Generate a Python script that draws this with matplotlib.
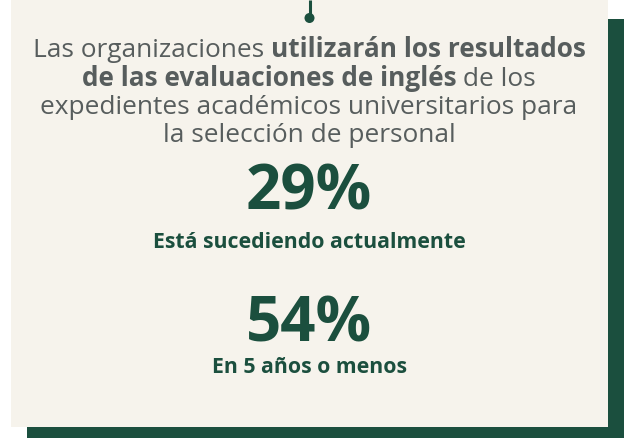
import matplotlib
matplotlib.use("Agg")
import matplotlib.pyplot as plt
from matplotlib.patches import Rectangle, Circle

# Data
values = [29, 54]
labels = ["Está sucediendo actualmente", "En 5 años o menos"]
title_lines = [
    [("Las organizaciones ", "normal"), ("utilizarán los resultados", "bold")],
    [("de las evaluaciones de inglés", "bold"), (" de los", "normal")],
    [("expedientes académicos universitarios para", "normal")],
    [("la selección de personal", "normal")],
]

GREEN = "#1b4f3e"
CREAM = "#f6f3ec"
GRAY = "#575d5d"
FONT = "Open Sans"

W, H = 624, 438
fig = plt.figure(figsize=(W / 100, H / 100), dpi=100)
ax = fig.add_axes([0, 0, 1, 1])
ax.set_xlim(0, W)
ax.set_ylim(H, 0)
ax.axis("off")

# shadow and card
ax.add_patch(Rectangle((27, 19), 624 - 27, 438 - 19, color=GREEN, lw=0))
ax.add_patch(Rectangle((11, 0), 608 - 11, 427, color=CREAM, lw=0))
# connector line with dot
ax.plot([309.5, 309.5], [0, 17], color=GREEN, lw=2.2, solid_capstyle="butt")
ax.add_patch(Circle((309.5, 18), 5, color=GREEN, lw=0))

# title with mixed weights, centered per line
fig.canvas.draw()
r = fig.canvas.get_renderer()
title_size = 18.9
line_y = [57, 85.5, 114, 142.5]
cx = 309
for parts, y in zip(title_lines, line_y):
    texts = []
    for s, wt in parts:
        t = ax.text(0, y, s, fontsize=title_size, fontweight=wt, family=FONT,
                    color=GRAY, va="baseline", ha="left")
        texts.append(t)
    widths = [t.get_window_extent(r).width for t in texts]
    total = sum(widths)
    x = cx - total / 2
    for t, w in zip(texts, widths):
        t.set_x(x)
        x += w

stat_y = [210, 342]
label_y = [248, 373]
for v, lab, sy, ly in zip(values, labels, stat_y, label_y):
    ax.text(cx, sy, f"{v}%", fontsize=44.5, fontweight="bold", family=FONT,
            color=GREEN, ha="center", va="baseline")
    ax.text(cx, ly, lab, fontsize=15.3, fontweight="bold", family=FONT,
            color=GREEN, ha="center", va="baseline")

fig.savefig("out.png", dpi=100, facecolor="white")
